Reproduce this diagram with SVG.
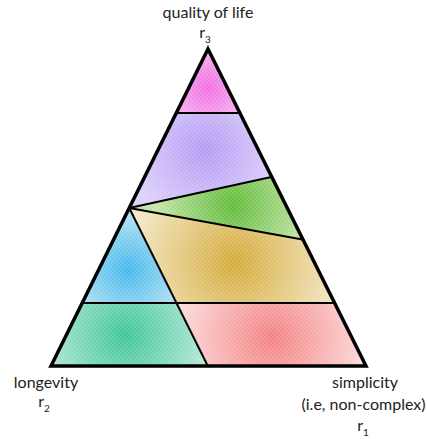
<svg xmlns="http://www.w3.org/2000/svg" width="427" height="439" viewBox="0 0 427 439">
<style>
.lbl{font-family:Lato,"Noto Sans","Liberation Sans",sans-serif;font-size:16px;fill:#222;text-anchor:middle}
.sub{font-size:10px}
.inner{fill:none;stroke:#000;stroke-width:2;stroke-linejoin:round}
.outer{fill:none;stroke:#000;stroke-width:3.5;stroke-linejoin:miter}
.dots{fill:url(#dots)}
</style>
<defs>
<pattern id="dots" width="4" height="4" patternUnits="userSpaceOnUse">
<circle cx="1" cy="1" r="0.7" fill="#fff" fill-opacity="0.3"/>
<circle cx="3" cy="3" r="0.7" fill="#fff" fill-opacity="0.3"/>
</pattern>
<radialGradient id="gPink" gradientUnits="userSpaceOnUse" cx="208" cy="88" r="40"><stop offset="0" stop-color="#f070e4"/><stop offset="1" stop-color="#f8b4ef"/></radialGradient>
<radialGradient id="gPurple" gradientUnits="userSpaceOnUse" cx="205" cy="150" r="75"><stop offset="0" stop-color="#b49cf4"/><stop offset="1" stop-color="#ddd0fa"/></radialGradient>
<radialGradient id="gGreen" gradientUnits="userSpaceOnUse" cx="233" cy="205" r="75"><stop offset="0" stop-color="#62bc3a"/><stop offset="1" stop-color="#c0e3a6"/></radialGradient>
<radialGradient id="gTan" gradientUnits="userSpaceOnUse" cx="235" cy="262" r="105"><stop offset="0" stop-color="#d4ab3a"/><stop offset="1" stop-color="#f3e6c4"/></radialGradient>
<radialGradient id="gBlue" gradientUnits="userSpaceOnUse" cx="128" cy="270" r="55"><stop offset="0" stop-color="#44b8ea"/><stop offset="1" stop-color="#b0e0f4"/></radialGradient>
<radialGradient id="gTeal" gradientUnits="userSpaceOnUse" cx="125" cy="335" r="85"><stop offset="0" stop-color="#40c59a"/><stop offset="1" stop-color="#b6e9d7"/></radialGradient>
<radialGradient id="gSalmon" gradientUnits="userSpaceOnUse" cx="272" cy="338" r="95"><stop offset="0" stop-color="#f38282"/><stop offset="1" stop-color="#fcdada"/></radialGradient>
</defs>
<rect width="427" height="439" fill="#fff"/>
<g id="region-pink"><polygon points="208,49 239.7,113 176.3,113" fill="url(#gPink)"/><polygon class="dots" points="208,49 239.7,113 176.3,113"/></g>
<g id="region-purple"><polygon points="176.3,113 239.7,113 271.4,177 129.25,208" fill="url(#gPurple)"/><polygon class="dots" points="176.3,113 239.7,113 271.4,177 129.25,208"/></g>
<g id="region-green"><polygon points="129.25,208 271.4,177 302.35,239.5" fill="url(#gGreen)"/><polygon class="dots" points="129.25,208 271.4,177 302.35,239.5"/></g>
<g id="region-tan"><polygon points="129.25,208 302.35,239.5 333.8,303 176.5,303" fill="url(#gTan)"/><polygon class="dots" points="129.25,208 302.35,239.5 333.8,303 176.5,303"/></g>
<g id="region-blue"><polygon points="129.25,208 176.5,303 82.2,303" fill="url(#gBlue)"/><polygon class="dots" points="129.25,208 176.5,303 82.2,303"/></g>
<g id="region-teal"><polygon points="82.2,303 176.5,303 207.8,366 51,366" fill="url(#gTeal)"/><polygon class="dots" points="82.2,303 176.5,303 207.8,366 51,366"/></g>
<g id="region-salmon"><polygon points="176.5,303 333.8,303 366,366 207.8,366" fill="url(#gSalmon)"/><polygon class="dots" points="176.5,303 333.8,303 366,366 207.8,366"/></g>
<g id="connectors">
<line class="inner" x1="176.3" y1="113" x2="239.7" y2="113"/>
<line class="inner" x1="129.25" y1="208" x2="271.4" y2="177"/>
<line class="inner" x1="129.25" y1="208" x2="302.35" y2="239.5"/>
<line class="inner" x1="129.25" y1="208" x2="207.8" y2="366"/>
<line class="inner" x1="82.2" y1="303" x2="333.8" y2="303"/>
<polygon class="outer" points="208,49 366,366 51,366"/>
</g>
<g id="label-top">
<text class="lbl" x="208" y="18">quality of life</text>
<text class="lbl" x="205" y="38">r<tspan class="sub" dy="5">3</tspan></text>
</g>
<g id="label-left">
<text class="lbl" x="46" y="388">longevity</text>
<text class="lbl" x="44" y="407">r<tspan class="sub" dy="5">2</tspan></text>
</g>
<g id="label-right">
<text class="lbl" x="365" y="388">simplicity</text>
<text class="lbl" x="363.5" y="410">(i.e, non-complex)</text>
<text class="lbl" x="363" y="431">r<tspan class="sub" dy="5">1</tspan></text>
</g>
</svg>
